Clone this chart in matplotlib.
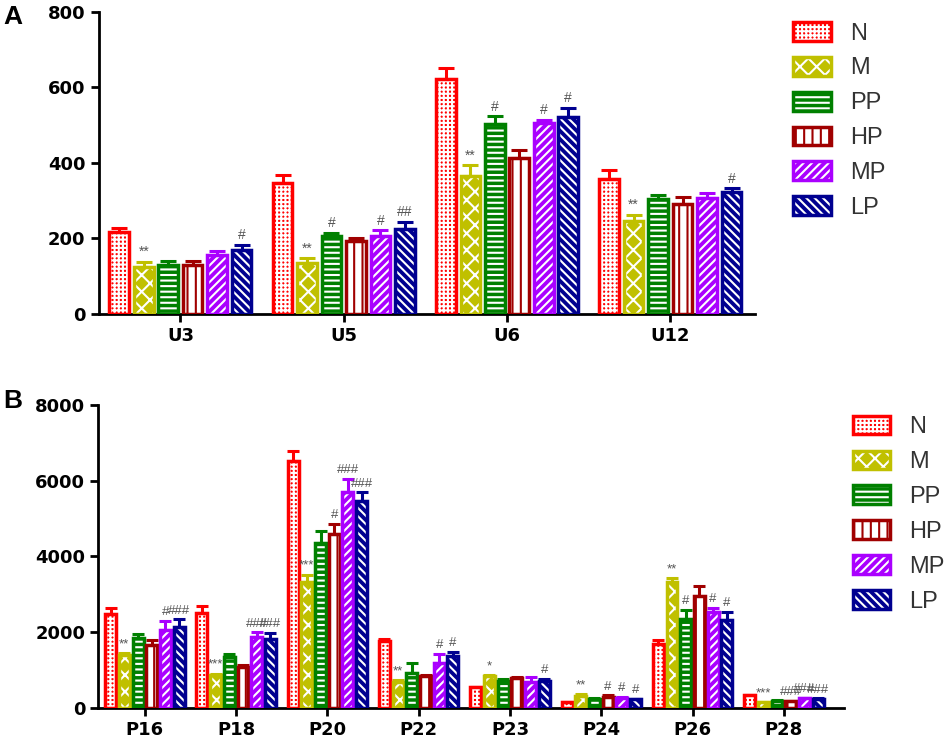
import numpy as np
import matplotlib.pyplot as plt
from matplotlib.patches import Patch

plt.rcParams['font.family'] = ['Liberation Sans', 'DejaVu Sans']
plt.rcParams['hatch.linewidth'] = 1.5

groups = ['N', 'M', 'PP', 'HP', 'MP', 'LP']
colors = ['#ff0000', '#c0c000', '#008000', '#a00000', '#aa00ff', '#000090']
hatches = ['++++', 'xx', '---', '||', '////', '\\\\\\\\']
# inverted fill (white face, coloured hatch) for HP
inverted = [False, False, False, True, False, False]

# panel A
cats_a = ['U3', 'U5', 'U6', 'U12']
vals_a = {
    'N':  [217, 347, 622, 358],
    'M':  [124, 135, 366, 247],
    'PP': [130, 207, 503, 304],
    'HP': [130, 192, 414, 292],
    'MP': [157, 207, 505, 307],
    'LP': [170, 225, 521, 322],
}
err_a = {
    'N':  [9, 20, 30, 22],
    'M':  [13, 12, 27, 16],
    'PP': [11, 8, 20, 10],
    'HP': [11, 10, 20, 18],
    'MP': [10, 14, 8, 12],
    'LP': [13, 18, 24, 10],
}
sig_a = {
    'M':  ['**', '**', '**', '**'],
    'PP': ['', '#', '#', ''],
    'MP': ['', '#', '#', ''],
    'LP': ['#', '##', '#', '#'],
}

# panel B
cats_b = ['P16', 'P18', 'P20', 'P22', 'P23', 'P24', 'P26', 'P28']
vals_b = {
    'N':  [2480, 2500, 6530, 1760, 550, 150, 1690, 350],
    'M':  [1400, 880, 3340, 700, 840, 330, 3340, 150],
    'PP': [1840, 1360, 4350, 920, 720, 250, 2350, 200],
    'HP': [1670, 1080, 4600, 850, 790, 300, 2950, 180],
    'MP': [2060, 1870, 5710, 1190, 700, 260, 2530, 260],
    'LP': [2150, 1820, 5470, 1380, 720, 230, 2330, 240],
}
err_b = {
    'N':  [170, 190, 260, 70, 20, 10, 110, 10],
    'M':  [60, 30, 180, 30, 30, 40, 90, 10],
    'PP': [110, 60, 330, 280, 40, 20, 250, 20],
    'HP': [130, 60, 260, 30, 40, 40, 280, 10],
    'MP': [240, 130, 330, 250, 120, 30, 110, 20],
    'LP': [190, 160, 220, 110, 50, 20, 200, 20],
}
sig_b = {
    'M':  ['**', '***', '***', '**', '*', '**', '**', '***'],
    'PP': ['', '', '', '', '', '', '#', ''],
    'HP': ['', '', '#', '', '', '#', '', '###'],
    'MP': ['#', '###', '###', '#', '', '#', '#', '###'],
    'LP': ['###', '###', '###', '#', '#', '#', '#', '###'],
}


def fill_colors(i):
    if inverted[i]:
        return 'white', colors[i]
    return colors[i], 'white'


def draw_panel(ax, cats, vals, errs, sigs, ymax, ystep, cap, sigsize):
    x = np.arange(len(cats))
    step = 0.15
    width = 0.12
    for i, g in enumerate(groups):
        xs = x + (i - 2.5) * step
        v = np.array(vals[g])
        e = np.array(errs[g])
        face, hcol = fill_colors(i)
        ax.errorbar(xs, v, yerr=[np.zeros_like(e), e], fmt='none',
                    ecolor=colors[i], elinewidth=2.2, capsize=cap, capthick=2.2, zorder=1)
        ax.bar(xs, v, width, color=face, edgecolor=hcol, hatch=hatches[i],
               linewidth=0, zorder=2)
        ax.bar(xs, v, width, fill=False, edgecolor=colors[i], linewidth=2.5, zorder=3)
        for j, s in enumerate(sigs.get(g, [''] * len(cats))):
            if s:
                ax.annotate(s, (xs[j], v[j] + e[j]), xytext=(0, 2),
                            textcoords='offset points', ha='center', va='bottom',
                            fontsize=sigsize, color='#555555')
    ax.set_ylim(0, ymax)
    ax.set_yticks(np.arange(0, ymax + 1, ystep))
    ax.set_xticks(x)
    ax.set_xticklabels(cats)
    for sp in ['top', 'right']:
        ax.spines[sp].set_visible(False)
    for sp in ['left', 'bottom']:
        ax.spines[sp].set_linewidth(2)
    ax.tick_params(width=2, length=6, labelsize=13)
    for lab in ax.get_xticklabels() + ax.get_yticklabels():
        lab.set_fontweight('bold')
        lab.set_family('DejaVu Sans')


def add_legend(ax, anchor):
    handles = []
    for i, (c, h) in enumerate(zip(colors, hatches)):
        face, hcol = fill_colors(i)
        handles.append((Patch(facecolor=face, edgecolor=hcol, hatch=h, linewidth=0),
                        Patch(fill=False, edgecolor=c, linewidth=2.5)))
    ax.legend(handles, groups, loc='upper left', bbox_to_anchor=anchor,
              bbox_transform=ax.figure.transFigure, frameon=False, fontsize=17,
              handlelength=1.6, handleheight=0.85, labelspacing=0.52,
              handletextpad=0.8, labelcolor='#333333')


fig = plt.figure(figsize=(9.5, 7.4), dpi=100)
ax1 = fig.add_axes([0.104, 0.576, 0.691, 0.408])
ax2 = fig.add_axes([0.1035, 0.043, 0.785, 0.41])

draw_panel(ax1, cats_a, vals_a, err_a, sig_a, 800, 200, 5.5, 10)
ax1.set_xlim(-0.5, 3.52)
add_legend(ax1, (0.8126, 0.999))

draw_panel(ax2, cats_b, vals_b, err_b, sig_b, 8000, 2000, 4, 9.5)
ax2.set_xlim(-0.51, 7.66)
add_legend(ax2, (0.875, 0.467))

fig.text(0.003, 0.968, 'A', fontsize=19, fontweight='bold')
fig.text(0.003, 0.448, 'B', fontsize=19, fontweight='bold')

fig.savefig('out.png', dpi=100)
